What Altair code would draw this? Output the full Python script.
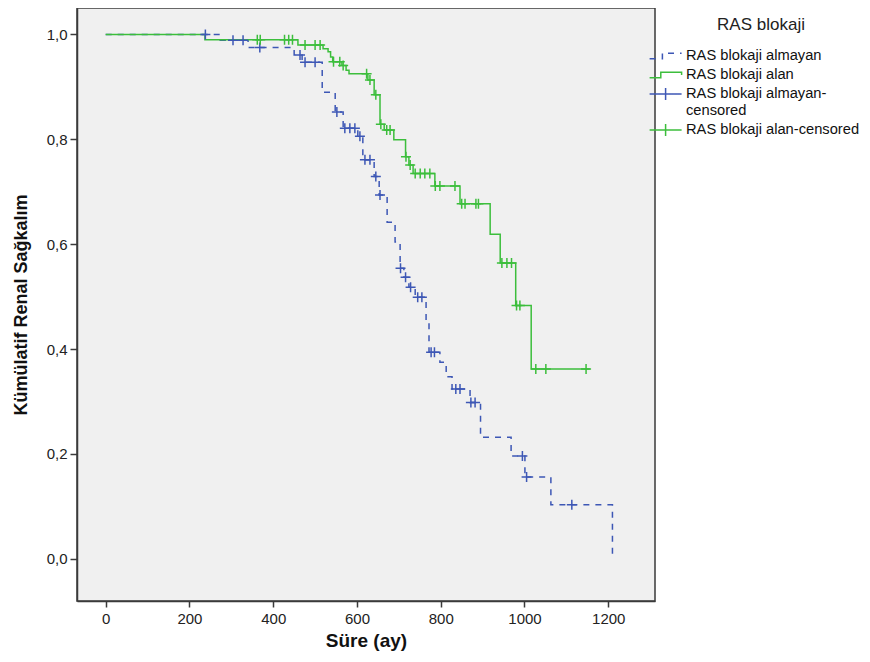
import altair as alt
import pandas as pd

# ---------------- data ----------------
series_names = [
    "RAS blokaji almayan",
    "RAS blokaji alan",
    "RAS blokaji almayan-censored",
    "RAS blokaji alan-censored",
]
series_colors = ["#3D57B5", "#3CBE3C", "#3D57B5", "#3CBE3C"]

# step curves (time in months, cumulative renal survival)
blue_t = [0, 273, 340, 450, 469, 517, 548, 567, 602, 614, 641, 653, 672, 691, 703,
          712, 724, 739, 765, 772, 798, 813, 827, 870, 895, 968, 1001, 1063, 1210]
blue_s = [1.0, 0.989, 0.975, 0.961, 0.947, 0.890, 0.852, 0.821, 0.806, 0.761, 0.729,
          0.694, 0.642, 0.604, 0.554, 0.537, 0.518, 0.499, 0.455, 0.394, 0.375, 0.347,
          0.324, 0.298, 0.232, 0.196, 0.156, 0.103, 0.0]

green_t = [0, 237, 459, 519, 531, 537, 542, 564, 574, 581, 626, 641, 655, 665, 688,
           716, 724, 734, 786, 846, 918, 942, 979, 1016, 1156]
green_s = [1.0, 0.990, 0.980, 0.973, 0.967, 0.957, 0.948, 0.941, 0.932, 0.925, 0.913,
           0.885, 0.829, 0.818, 0.799, 0.767, 0.751, 0.735, 0.711, 0.677, 0.619, 0.564,
           0.483, 0.362, 0.362]

# censored observations
blue_ct = [238, 304, 328, 368, 464, 476, 500, 552, 571, 583, 595, 607, 619, 631, 645,
           655, 704, 716, 728, 745, 755, 777, 785, 836, 846, 872, 882, 995, 1005, 1113]
blue_cs = [1.0, 0.989, 0.989, 0.975, 0.961, 0.947, 0.947, 0.852, 0.821, 0.821, 0.821,
           0.806, 0.761, 0.761, 0.729, 0.694, 0.554, 0.537, 0.518, 0.499, 0.499, 0.394,
           0.394, 0.324, 0.324, 0.298, 0.298, 0.196, 0.156, 0.103]

green_ct = [362, 369, 427, 437, 446, 476, 500, 512, 544, 559, 567, 623, 631, 645, 657,
            671, 679, 717, 727, 739, 751, 762, 774, 787, 798, 834, 850, 858, 884, 890,
            946, 958, 969, 981, 989, 1027, 1051, 1147]
green_cs = [0.990, 0.990, 0.990, 0.990, 0.990, 0.980, 0.980, 0.980, 0.948, 0.948, 0.941,
            0.925, 0.913, 0.885, 0.829, 0.818, 0.818, 0.767, 0.751, 0.735, 0.735, 0.735,
            0.735, 0.711, 0.711, 0.711, 0.677, 0.677, 0.677, 0.677, 0.564, 0.564, 0.564,
            0.483, 0.483, 0.362, 0.362, 0.362]

x_ticks = [0, 200, 400, 600, 800, 1000, 1200]
y_ticks = [0.0, 0.2, 0.4, 0.6, 0.8, 1.0]

# ---------------- tables ----------------
lines = pd.DataFrame({
    "t": blue_t + green_t,
    "s": blue_s + green_s,
    "series": [series_names[0]] * len(blue_t) + [series_names[1]] * len(green_t),
})
cens = pd.DataFrame({
    "t": blue_ct + green_ct,
    "s": blue_cs + green_cs,
    "series": [series_names[2]] * len(blue_ct) + [series_names[3]] * len(green_ct),
})

FONT = "Liberation Sans"
W, H = 578, 593

xscale = alt.Scale(domain=[-68.5, 1311.6], nice=False, zero=False)
yscale = alt.Scale(domain=[-0.0805, 1.0505], nice=False, zero=False)

x_enc = alt.X("t:Q", scale=xscale, axis=alt.Axis(
    values=x_ticks, format="d", title="Süre (ay)", grid=False,
    tickSize=6, labelPadding=4, titleY=39, titleBaseline="middle",
))
y_enc = alt.Y("s:Q", scale=yscale, axis=alt.Axis(
    values=y_ticks, title="Kümülatif Renal Sağkalım", grid=False,
    labelExpr="replace(format(datum.value, '.1f'), '.', ',')",
    tickSize=7, labelPadding=3, titleX=-56, titleY=H / 2, titleBaseline="middle",
    titleAngle=270,
))

legend_kw = dict(
    title="RAS blokaji", orient="none", legendX=586, legendY=9, padding=0,
    titleFont=FONT, titleFontSize=17, titleFontWeight="normal", titleColor="#222",
    titleAnchor="middle", titleAlign="center", titlePadding=13,
    labelFont=FONT, labelFontSize=14.7, labelColor="#111", labelLimit=400, labelOffset=5,
    symbolSize=256, symbolStrokeWidth=1.5, symbolFillColor="transparent",
    rowPadding=3,
    labelExpr="datum.label == 'RAS blokaji almayan-censored' ? ['RAS blokaji almayan-', 'censored'] : datum.label",
)

color = alt.Color("series:N", scale=alt.Scale(domain=series_names, range=series_colors),
                  legend=alt.Legend(**legend_kw))
dash = alt.StrokeDash("series:N", scale=alt.Scale(domain=series_names,
                      range=[[6, 6], [1, 0], [1, 0], [1, 0]]),
                      legend=alt.Legend(**legend_kw))
shape = alt.Shape("series:N", scale=alt.Scale(domain=series_names, range=[
    "M-2.8,0.35H-1.2V-0.35H1.2",
    "M-2.8,0.35H-1.4V-0.35H1.2V0",
    "M-2.8,0H1.2M-0.8,-0.75V0.75",
    "M-2.8,0H1.2M-0.8,-0.75V0.75",
]), legend=alt.Legend(**legend_kw))

line_layer = alt.Chart(lines).mark_line(
    interpolate="step-after", strokeWidth=1.5, clip=True
).encode(x=x_enc, y=y_enc, color=color, strokeDash=dash)

point_layer = alt.Chart(cens).mark_point(
    shape="M-1,0H1M0,-1V1", size=100, filled=False, strokeWidth=1.5, opacity=1
).encode(x=x_enc, y=y_enc, color=color)

legend_layer = alt.Chart(cens).transform_filter("false").mark_point(
    filled=False
).encode(x=x_enc, y=y_enc, color=color, shape=shape)

chart = alt.layer(line_layer, point_layer, legend_layer).properties(
    width=W, height=H, autosize="none",
    padding={"left": 69, "top": 0, "right": 207, "bottom": 53},
    background="white",
).configure_view(
    fill="#F0F0F0", stroke="#3a3a3a", strokeWidth=1.5
).configure_axis(
    labelFont=FONT, labelFontSize=15, labelColor="#222",
    titleFont=FONT, titleFontWeight="bold", titleColor="#111",
    domainColor="#3a3a3a", domainWidth=1.5, tickColor="#3a3a3a", tickWidth=1.5,
).configure_axisX(titleFontSize=19).configure_axisY(titleFontSize=18)

chart.save("out.html", embed_options={"renderer": "svg", "actions": False})
